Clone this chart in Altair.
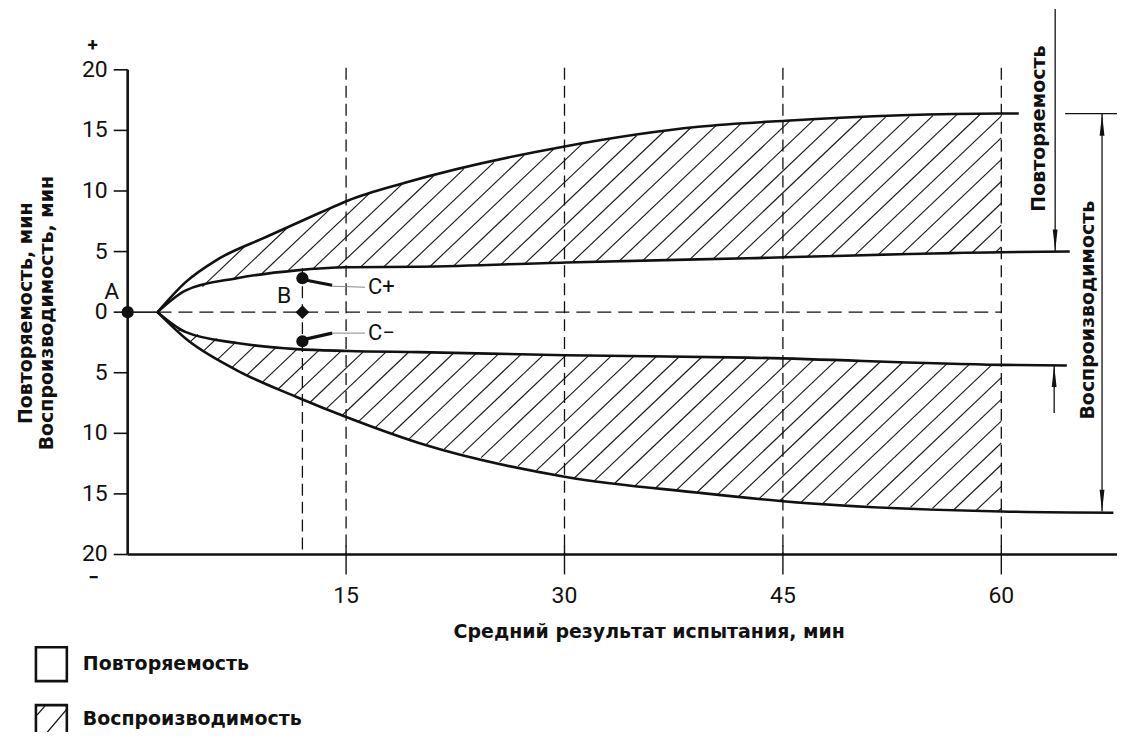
import altair as alt
import numpy as np
import pandas as pd

# ---------------- data ----------------
x_ticks = [15, 30, 45, 60]
x_tick_labels = ["15", "30", "45", "60"]
y_tick_vals = [20, 15, 10, 5, 0, -5, -10, -15, -20]
y_tick_labels = ["20", "15", "10", "5", "0", "5", "10", "15", "20"]

# reproducibility limits (outer curves)
outer_up_x = [2.05, 4.0, 6.1, 9.5, 13.2, 15.1, 19.1, 30.1, 39.2, 45.2, 60.0, 61.2]
outer_up_y = [0.0, 2.5, 4.3, 6.2, 8.2, 9.2, 10.7, 13.7, 15.3, 15.8, 16.4, 16.4]
outer_lo_x = [2.05, 4.0, 7.5, 11.6, 15.1, 20.0, 30.1, 39.2, 45.0, 60.0, 67.7]
outer_lo_y = [0.0, -2.2, -4.8, -7.0, -8.7, -10.8, -13.6, -14.9, -15.6, -16.45, -16.55]
# repeatability limits (inner curves)
inner_up_x = [2.05, 4.0, 7.5, 11.6, 15.1, 20.0, 30.1, 42.6, 60.0, 64.7]
inner_up_y = [0.0, 1.8, 2.8, 3.45, 3.7, 3.75, 4.1, 4.45, 4.95, 5.0]
inner_lo_x = [2.05, 4.0, 7.5, 11.6, 15.1, 20.0, 30.1, 42.6, 60.0, 64.5]
inner_lo_y = [0.0, -1.65, -2.55, -3.05, -3.2, -3.3, -3.55, -3.75, -4.35, -4.4]

point_names = ["A", "C+", "B", "C-"]
point_x = [0.0, 12.0, 12.0, 12.0]
point_y = [0.0, 2.8, 0.0, -2.4]

hatch_end_x = 60.0
B_x = 12.0

# ---------------- geometry helpers (pixel <-> data) ----------------
PX0, SX = 128.0, 14.6      # page px of x=0, px per minute
PY0, SY = 312.0, 12.15     # page px of y=0, px per minute
W, H = 1112, 724


def dx(px):
    return (px - PX0) / SX


def dy(py):
    return (PY0 - py) / SY


XS = alt.Scale(domain=[dx(8), dx(8 + W)], nice=False, zero=False)
YS = alt.Scale(domain=[dy(8 + H), dy(8)], nice=False, zero=False)
INK = "#111111"
COND = "Roboto, Liberation Sans, sans-serif"
BOLD = "DejaVu Sans, Liberation Sans, sans-serif"


def X(f="x"):
    return alt.X(f"{f}:Q", scale=XS, axis=None)


def Y(f="y"):
    return alt.Y(f"{f}:Q", scale=YS, axis=None)


def segs(rows, width=1.3, color=INK, dash=None):
    df = pd.DataFrame(rows, columns=["x", "y", "x2", "y2"])
    kw = dict(color=color, strokeWidth=width, clip=False)
    if dash:
        kw["strokeDash"] = dash
    return alt.Chart(df).mark_rule(**kw).encode(
        x=X(), y=Y(), x2="x2:Q", y2="y2:Q")


def texts(rows, size, font, weight="normal", align="center", angle=0, baseline="middle"):
    df = pd.DataFrame(rows, columns=["x", "y", "t"])
    kw = dict(fontSize=size, font=font, fontWeight=weight, align=align,
              baseline=baseline, color=INK, clip=False)
    if angle:
        kw["angle"] = angle
    return alt.Chart(df).mark_text(**kw).encode(x=X(), y=Y(), text="t:N")


# ---------------- hatching (derived from the curve arrays) ----------------
def to_px(xs, ys):
    return (np.array(xs) * SX + PX0, PY0 - np.array(ys) * SY)


pxs = np.arange(PX0 + outer_up_x[0] * SX, PX0 + hatch_end_x * SX + 0.01, 0.25)
ou = np.interp(pxs, *to_px(outer_up_x, outer_up_y))
iu = np.interp(pxs, *to_px(inner_up_x, inner_up_y))
il = np.interp(pxs, *to_px(inner_lo_x, inner_lo_y))
ol = np.interp(pxs, *to_px(outer_lo_x, outer_lo_y))

K = 0.95       # slope in pixels (rises to the right)
STEP = 23.0    # horizontal spacing in px
hatch_rows = []
for top, bot in [(ou, iu), (il, ol)]:
    cmin = np.min(top + K * pxs)
    cmax = np.max(bot + K * pxs)
    c0 = PY0 + K * (PX0 + hatch_end_x * SX)
    cs = c0 + STEP * K * np.arange(np.floor((cmin - c0) / (STEP * K)), np.ceil((cmax - c0) / (STEP * K)) + 1)
    for c in cs:
        py = c - K * pxs
        inside = (py >= top - 0.3) & (py <= bot + 0.3)
        if not inside.any():
            continue
        d = np.diff(np.concatenate([[0], inside.astype(int), [0]]))
        starts = np.where(d == 1)[0]
        ends = np.where(d == -1)[0] - 1
        for s, e in zip(starts, ends):
            if pxs[e] - pxs[s] < 1.5:
                continue
            hatch_rows.append([dx(pxs[s]), dy(py[s]), dx(pxs[e]), dy(py[e])])

hatch = segs(hatch_rows, width=1.15, color="#1a1a1a")

# ---------------- curves ----------------
curve_df = pd.concat([
    pd.DataFrame({"x": outer_up_x, "y": outer_up_y, "c": "ou"}),
    pd.DataFrame({"x": outer_lo_x, "y": outer_lo_y, "c": "ol"}),
    pd.DataFrame({"x": inner_up_x, "y": inner_up_y, "c": "iu"}),
    pd.DataFrame({"x": inner_lo_x, "y": inner_lo_y, "c": "il"}),
])
curves = alt.Chart(curve_df).mark_line(
    interpolate="monotone", color=INK, strokeWidth=2.6, clip=False
).encode(x=X(), y=Y(), detail="c:N")

# ---------------- grid / axes ----------------
vdash = segs([[v, dy(67), v, -20] for v in x_ticks], width=1.3, dash=[12, 6])
bdash = segs([[B_x, dy(268), B_x, -20]], width=1.3, dash=[12, 6])
xstubs = segs([[v, dy(546), v, dy(575)] for v in x_ticks], width=1.4)
zero_solid = segs([[0, 0, outer_up_x[0], 0]], width=1.6)
zero_dash = segs([[outer_up_x[0], 0, hatch_end_x, 0]], width=1.3, dash=[14, 7])
yaxis = segs([[0, 20, 0, -20]], width=2.6)
xaxis = segs([[0, -20, dx(1125), -20]], width=2.6)
yticks = segs([[dx(114), v, 0, v] for v in y_tick_vals], width=1.6)

ylab = texts([[dx(108), v, t] for v, t in zip(y_tick_vals, y_tick_labels)], 23, COND, align="right")
xlab = texts([[v, dy(597), t] for v, t in zip(x_ticks, x_tick_labels)], 23, COND)
signs = texts([[dx(93), dy(44), "+"], [dx(94), dy(579), "−"]], 19, COND, weight="bold")

# ---------------- points and labels ----------------
pdf = pd.DataFrame({"x": point_x, "y": point_y, "n": point_names})
dots = alt.Chart(pdf[pdf.n != "B"]).mark_point(
    shape="circle", filled=True, size=150, color=INK, opacity=1, clip=False
).encode(x=X(), y=Y())
bdot = alt.Chart(pdf[pdf.n == "B"]).mark_point(
    shape="diamond", filled=True, size=190, color=INK, opacity=1, clip=False
).encode(x=X(), y=Y())

letters = texts([[dx(112), dy(292), "A"], [dx(285), dy(296), "B"]], 23, COND)
clabels = texts([[dx(369), dy(287), "C+"], [dx(369), dy(333), "C−"]], 22, COND, align="left")
leader_thick = segs([[dx(302), dy(279), dx(333), dy(285)],
                     [dx(302), dy(340), dx(333), dy(333)]], width=3.2)
leader_thin = segs([[dx(333), dy(286), dx(366), dy(287)],
                    [dx(333), dy(333), dx(366), dy(333)]], width=1.0, color="#888888")

# ---------------- right-hand dimension marks ----------------
dims = segs([
    [dx(1058), dy(8), dx(1058), dy(251)],
    [dx(1057), dy(365), dx(1057), dy(413)],
    [dx(1068), dy(113), dx(1120), dy(113)],
    [dx(1105), dy(113), dx(1105), dy(512)],
], width=1.3)

DOWN = "M-0.22,-1L0.22,-1L0,1Z"
UP = "M-0.22,1L0.22,1L0,-1Z"
AL = 22  # arrow length px
arr_down = alt.Chart(pd.DataFrame({"x": [dx(1058), dx(1105)], "y": [dy(251 - AL / 2), dy(512 - AL / 2)]})).mark_point(
    shape=DOWN, filled=True, size=AL * AL, color=INK, opacity=1, clip=False).encode(x=X(), y=Y())
arr_up = alt.Chart(pd.DataFrame({"x": [dx(1057), dx(1105)], "y": [dy(365 + AL / 2), dy(113 + AL / 2)]})).mark_point(
    shape=UP, filled=True, size=AL * AL, color=INK, opacity=1, clip=False).encode(x=X(), y=Y())

rtext = texts([[dx(1042), dy(128), "Повторяемость"],
               [dx(1091), dy(310), "Воспроизводимость"]], 19, BOLD, weight="bold", angle=270)

# ---------------- titles ----------------
ytitle = texts([[dx(26), dy(313), "Повторяемость, мин"],
                [dx(47), dy(313), "Воспроизводимость, мин"]], 19, BOLD, weight="bold", angle=270)
xtitle = texts([[dx(651), dy(633), "Средний результат испытания, мин"]], 19, BOLD, weight="bold")

# ---------------- legend ----------------
boxes = alt.Chart(pd.DataFrame({
    "x": [dx(36), dx(36)], "x2": [dx(67), dx(67)],
    "y": [dy(648), dy(706)], "y2": [dy(682), dy(745)],
})).mark_rect(fillOpacity=0, stroke=INK, strokeWidth=2.6, clip=False).encode(
    x=X(), y=Y(), x2="x2:Q", y2="y2:Q")
box_hatch = segs([[dx(45), dy(736), dx(67), dy(710)],
                  [dx(37), dy(716), dx(45), dy(707)]], width=1.3)
legend_text = texts([[dx(83), dy(665), "Повторяемость"],
                     [dx(83), dy(720), "Воспроизводимость"]], 19, BOLD, weight="bold", align="left")

chart = alt.layer(
    hatch, vdash, bdash, xstubs, zero_solid, zero_dash,
    curves, yaxis, xaxis, yticks,
    ylab, xlab, signs,
    leader_thin, leader_thick, dots, bdot, letters, clabels,
    dims, arr_down, arr_up, rtext,
    ytitle, xtitle, boxes, box_hatch, legend_text,
).properties(
    width=W, height=H,
    autosize=alt.AutoSizeParams(type="none"),
    padding=0,
    background="white",
).configure_view(stroke=None)

chart.save("out.html", embed_options={"renderer": "svg", "actions": False})
